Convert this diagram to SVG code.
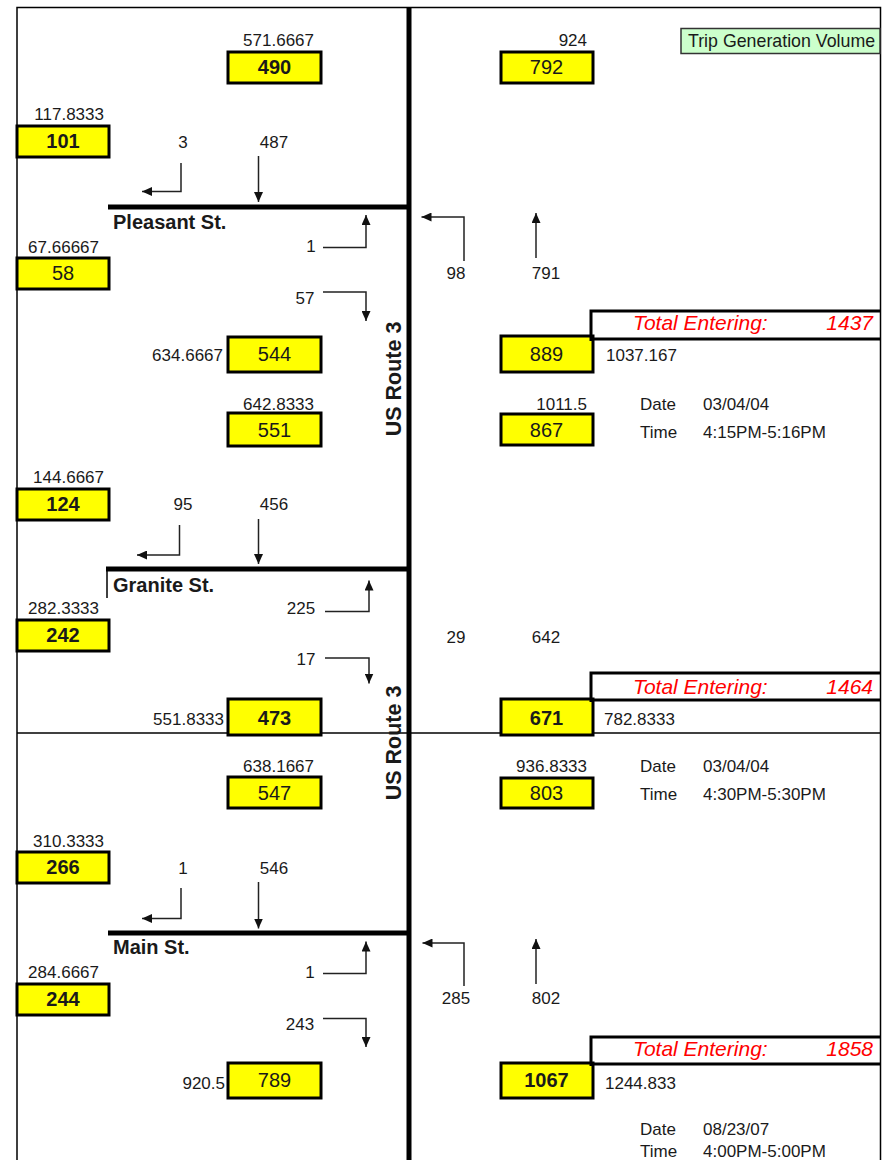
<svg xmlns="http://www.w3.org/2000/svg" width="888" height="1160" viewBox="0 0 888 1160">
<style>
  text { font-family: "Liberation Sans", Arial, sans-serif; fill: #1a1a1a; }
  .lbl { font-size: 17px; }
  .num { font-size: 20px; text-anchor: middle; }
  .b { font-weight: bold; }
  .st { font-size: 20px; font-weight: bold; }
  .rt { font-size: 21.5px; font-weight: bold; text-anchor: middle; }
  .box { fill: #FFFF00; stroke: #000; stroke-width: 3; }
  .tot { fill: none; stroke: #000; stroke-width: 3; }
  .totx { font-size: 21px; font-style: italic; fill: #FF0000; }
  .road { stroke: #000; stroke-width: 5; }
  .thin { stroke: #000; stroke-width: 1.5; fill: none; }
  .arr { stroke: #222; stroke-width: 1.5; fill: none; marker-end: url(#ah); }
  .end { text-anchor: end; }
  .mid { text-anchor: middle; }
</style>
<defs>
  <marker id="ah" markerUnits="userSpaceOnUse" markerWidth="11" markerHeight="9" refX="10" refY="4.5" orient="auto">
    <path d="M0,0 L10,4.5 L0,9 z" fill="#111"/>
  </marker>
</defs>
<rect width="888" height="1160" fill="#fff"/>

<g id="frame">
  <path class="thin" d="M17,1160 V7.5 H880.5 V1160"/>
  <line class="thin" x1="17" y1="733" x2="880" y2="733"/>
  <line class="road" x1="409" y1="7" x2="409" y2="1160"/>
  <line class="road" x1="108" y1="207" x2="409" y2="207"/>
  <line class="road" x1="106" y1="569" x2="409" y2="569"/>
  <line class="thin" x1="107" y1="569" x2="107" y2="598"/>
  <line class="road" x1="108" y1="933" x2="409" y2="933"/>
  <text class="st" x="113" y="229">Pleasant St.</text>
  <text class="st" x="113" y="592">Granite St.</text>
  <text class="st" x="113" y="954">Main St.</text>
  <text class="rt" transform="translate(401,379) rotate(-90)">US Route 3</text>
  <text class="rt" transform="translate(401,743) rotate(-90)">US Route 3</text>
</g>

<g id="trip-generation">
  <rect x="681" y="28.5" width="199" height="25" fill="#CCFFCC" stroke="#333" stroke-width="1.5"/>
  <text x="688" y="47" style="font-size:17.8px">Trip Generation Volume</text>
</g>

<!-- Left column boxes -->
<g id="n101"><text class="lbl end" x="104" y="119.5">117.8333</text><rect class="box" x="17" y="126" width="92" height="31"/><text class="num b" x="63" y="148">101</text></g>
<g id="n58"><text class="lbl end" x="99" y="252.5">67.66667</text><rect class="box" x="17" y="258" width="92" height="31"/><text class="num" x="63" y="279.5">58</text></g>
<g id="n124"><text class="lbl end" x="104" y="483">144.6667</text><rect class="box" x="17" y="489" width="92" height="31"/><text class="num b" x="63" y="511">124</text></g>
<g id="n242"><text class="lbl end" x="99" y="614">282.3333</text><rect class="box" x="17" y="620" width="92" height="31"/><text class="num b" x="63" y="642">242</text></g>
<g id="n266"><text class="lbl end" x="104" y="847">310.3333</text><rect class="box" x="17" y="852" width="92" height="31"/><text class="num b" x="63" y="874">266</text></g>
<g id="n244"><text class="lbl end" x="99" y="977.5">284.6667</text><rect class="box" x="17" y="984" width="92" height="31"/><text class="num b" x="63" y="1006">244</text></g>

<!-- Middle column boxes -->
<g id="n490"><text class="lbl end" x="314" y="46">571.6667</text><rect class="box" x="228" y="52" width="93" height="31"/><text class="num b" x="274.5" y="74">490</text></g>
<g id="n544"><text class="lbl end" x="223" y="361">634.6667</text><rect class="box" x="228" y="337" width="93" height="35"/><text class="num" x="274.5" y="361">544</text></g>
<g id="n551"><text class="lbl end" x="314" y="410">642.8333</text><rect class="box" x="228" y="413" width="93" height="33"/><text class="num" x="274.5" y="437">551</text></g>
<g id="n473"><text class="lbl end" x="224" y="725">551.8333</text><rect class="box" x="228" y="699" width="93" height="36"/><text class="num b" x="274.5" y="725">473</text></g>
<g id="n547"><text class="lbl end" x="314" y="772">638.1667</text><rect class="box" x="228" y="777" width="93" height="31"/><text class="num" x="274.5" y="799.5">547</text></g>
<g id="n789"><text class="lbl end" x="225" y="1089">920.5</text><rect class="box" x="228" y="1063" width="93" height="35"/><text class="num" x="274.5" y="1087">789</text></g>

<!-- Right column boxes -->
<g id="n792"><text class="lbl end" x="587" y="46">924</text><rect class="box" x="501" y="52" width="92" height="31"/><text class="num" x="546.5" y="74">792</text></g>
<g id="n889"><rect class="box" x="501" y="336" width="92" height="36"/><text class="num" x="546.5" y="361">889</text><text class="lbl" x="606" y="361">1037.167</text></g>
<g id="n867"><text class="lbl end" x="587" y="409.5">1011.5</text><rect class="box" x="501" y="414" width="92" height="31"/><text class="num" x="546.5" y="437">867</text></g>
<g id="n671"><rect class="box" x="501" y="699" width="92" height="36"/><text class="num b" x="546.5" y="725">671</text><text class="lbl" x="604" y="724.5">782.8333</text></g>
<g id="n803"><text class="lbl end" x="587" y="772">936.8333</text><rect class="box" x="501" y="778" width="92" height="30"/><text class="num" x="546.5" y="800">803</text></g>
<g id="n1067"><rect class="box" x="501" y="1063" width="92" height="35"/><text class="num b" x="546.5" y="1087">1067</text><text class="lbl" x="605" y="1088.5">1244.833</text></g>

<!-- Total entering -->
<g id="total1"><path class="tot" d="M591,341 V311 H880 M591,339 H880"/><text class="totx" x="633" y="330">Total Entering:</text><text class="totx end" x="873" y="330">1437</text></g>
<g id="total2"><path class="tot" d="M591,702 V673 H880 M591,700 H880"/><text class="totx" x="633" y="694">Total Entering:</text><text class="totx end" x="873" y="694">1464</text></g>
<g id="total3"><path class="tot" d="M591,1066 V1037 H880 M591,1064 H880"/><text class="totx" x="633" y="1056">Total Entering:</text><text class="totx end" x="873" y="1056">1858</text></g>

<!-- Date/time -->
<g id="date1"><text class="lbl" x="640" y="409.5">Date</text><text class="lbl" x="703" y="409.5">03/04/04</text><text class="lbl" x="640" y="438">Time</text><text class="lbl" x="703" y="438">4:15PM-5:16PM</text></g>
<g id="date2"><text class="lbl" x="640" y="772">Date</text><text class="lbl" x="703" y="772">03/04/04</text><text class="lbl" x="640" y="800">Time</text><text class="lbl" x="703" y="800">4:30PM-5:30PM</text></g>
<g id="date3"><text class="lbl" x="640" y="1135">Date</text><text class="lbl" x="703" y="1135">08/23/07</text><text class="lbl" x="640" y="1157">Time</text><text class="lbl" x="703" y="1157">4:00PM-5:00PM</text></g>

<!-- Movement labels -->
<g id="movement-labels">
  <text class="lbl mid" x="183" y="148">3</text>
  <text class="lbl mid" x="274" y="148">487</text>
  <text class="lbl mid" x="311" y="252">1</text>
  <text class="lbl mid" x="305" y="303.5">57</text>
  <text class="lbl mid" x="456" y="278.5">98</text>
  <text class="lbl mid" x="546" y="278.5">791</text>
  <text class="lbl mid" x="183" y="510">95</text>
  <text class="lbl mid" x="274" y="510">456</text>
  <text class="lbl mid" x="301" y="614">225</text>
  <text class="lbl mid" x="306" y="665">17</text>
  <text class="lbl mid" x="456" y="643">29</text>
  <text class="lbl mid" x="546" y="643">642</text>
  <text class="lbl mid" x="183" y="873.5">1</text>
  <text class="lbl mid" x="274" y="873.5">546</text>
  <text class="lbl mid" x="310" y="977.5">1</text>
  <text class="lbl mid" x="300" y="1029.5">243</text>
  <text class="lbl mid" x="456" y="1004">285</text>
  <text class="lbl mid" x="546" y="1004">802</text>
</g>

<!-- Connectors -->
<g id="connectors">
  <path class="arr" d="M181,163 V191.5 H142"/>
  <path class="arr" d="M258.5,156 V202"/>
  <path class="arr" d="M323,247.5 H366 V215"/>
  <path class="arr" d="M323,292 H366 V321"/>
  <path class="arr" d="M464,261 V217 H421.5"/>
  <path class="arr" d="M536,258 V213"/>
  <path class="arr" d="M179.5,525 V555 H137"/>
  <path class="arr" d="M258.5,519 V564"/>
  <path class="arr" d="M325,611.5 H369 V580.5"/>
  <path class="arr" d="M325,658 H369 V683.5"/>
  <path class="arr" d="M181,888 V918.5 H142"/>
  <path class="arr" d="M258.5,882 V928.5"/>
  <path class="arr" d="M323,973.5 H366 V941.5"/>
  <path class="arr" d="M323,1018.5 H366 V1047"/>
  <path class="arr" d="M464,986 V943 H422.5"/>
  <path class="arr" d="M536,984 V939"/>
</g>
</svg>
